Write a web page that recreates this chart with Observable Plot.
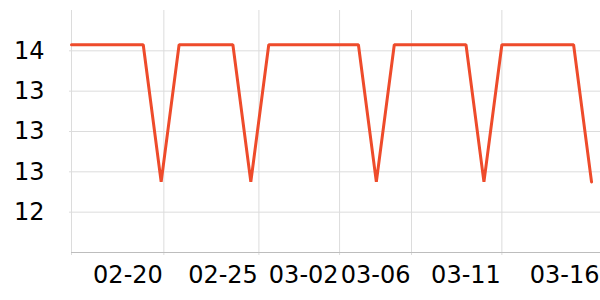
<!DOCTYPE html>
<html>
<head>
<meta charset="utf-8">
<script src="https://cdn.jsdelivr.net/npm/d3@7"></script>
<script src="https://cdn.jsdelivr.net/npm/@observablehq/plot@0.6"></script>
<style>
  html, body { margin: 0; padding: 0; background: #fff; }
  #chart svg { display: block; font-family: "DejaVu Sans", sans-serif; }
</style>
</head>
<body>
<div id="chart"></div>
<script>
// Series values, one per observation (index 0..29)
const values = [
  13.86, 13.86, 13.86, 13.86, 13.86, 12.5, 13.86, 13.86, 13.86, 13.86,
  12.5, 13.86, 13.86, 13.86, 13.86, 13.86, 13.86, 12.5, 13.86, 13.86,
  13.86, 13.86, 13.86, 12.5, 13.86, 13.86, 13.86, 13.86, 13.86, 12.5
];
// x tick positions (in observation-index units) and their labels
const xTickPos = [0, 5.15, 10.45, 14.95, 18.96, 24, 29.5];
const xTickLabels = ["", "02-20", "02-25", "03-02", "03-06", "03-11", "03-16"];
// y ticks
const yTicks = [12.2, 12.6, 13.0, 13.4, 13.8];
const yDomain = [11.8, 14.2];

const data = values.map((v, i) => ({i, v}));
const xTicks = xTickPos.map((p, k) => ({pos: p, label: xTickLabels[k]}));

const chart = Plot.plot({
  width: 600,
  height: 300,
  marginLeft: 71,
  marginRight: 0,
  marginTop: 10,
  marginBottom: 48,
  style: {fontFamily: "DejaVu Sans, sans-serif", background: "#fff"},
  x: {type: "linear", domain: [0, 29.5], axis: null},
  y: {domain: yDomain, axis: null},
  marks: [
    Plot.ruleY(yTicks, {stroke: "#dcdcdc", strokeWidth: 1, insetLeft: -2}),
    Plot.ruleX(xTicks, {x: "pos", stroke: "#dcdcdc", strokeWidth: 1, insetBottom: -3}),
    Plot.ruleY([yDomain[0]], {stroke: "#bdbdbd", strokeWidth: 1}),
    Plot.text(yTicks, {
      x: () => 0, y: d => d, text: d => d3.format(".0f")(d),
      frameAnchor: "left", textAnchor: "end", dx: -27,
      fontSize: 24, fill: "#000", lineAnchor: "middle"
    }),
    Plot.text(xTicks, {
      x: "pos", text: "label", frameAnchor: "bottom",
      textAnchor: "end", lineAnchor: "top", dy: 13, dx: -1,
      fontSize: 24, fill: "#000"
    }),
    Plot.line(data, {x: "i", y: "v", stroke: "#ee4b2b", strokeWidth: 3, strokeLinejoin: "miter"})
  ]
});
document.getElementById("chart").appendChild(chart);
</script>
</body>
</html>
